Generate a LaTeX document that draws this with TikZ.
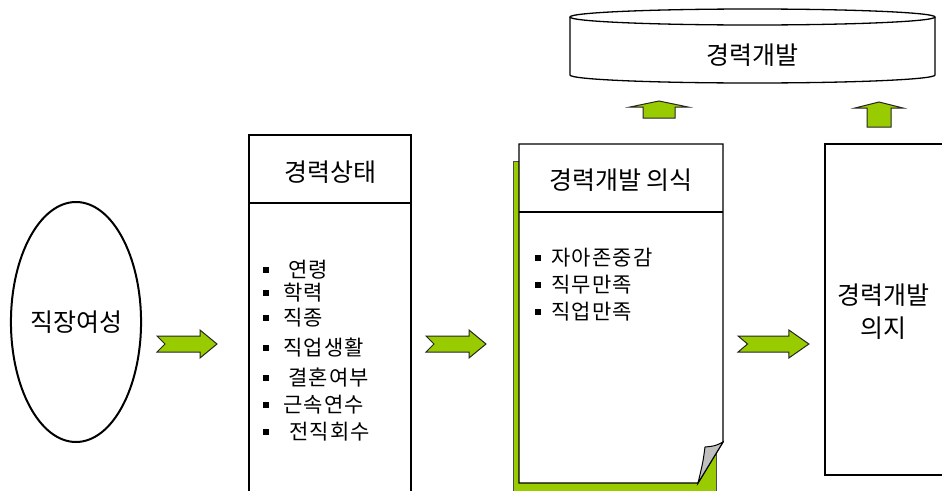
\documentclass[tikz,border=0pt]{standalone}
\usepackage{fontspec}
\newfontfamily\kr{Noto Sans CJK KR}
\newfontfamily\krs[LetterSpace=6]{Noto Sans CJK KR}
\usetikzlibrary{shapes.geometric}
\definecolor{agreen}{HTML}{99CC00}
\begin{document}
\begin{tikzpicture}[x=1pt,y=-1pt, line join=miter,
 box/.style={draw=black, line width=1.3pt, fill=white},
 garrow/.style={fill=agreen, draw=black!85, line width=1pt},
 lbl/.style={font=\kr\fontsize{25}{33}\selectfont, inner sep=0, align=center},
 item/.style={font=\krs\fontsize{21}{24}\selectfont, inner sep=0, anchor=west},
 bul/.style={fill=black, minimum size=6pt, inner sep=0},
 rarrow/.pic={\draw[garrow] (-30,-8) -- (13,-8) -- (13,-14) -- (30,0) -- (13,14) -- (13,8) -- (-30,8) -- (-22,0) -- cycle;}
]
\useasboundingbox (0,0) rectangle (942,490);
\clip (0,0) rectangle (942,490);

% ellipse
\node[ellipse, draw=black, line width=2pt, minimum width=126pt, minimum height=240pt, lbl] (woman) at (76,322) {직장여성};

% box 1
\draw[box] (249,495) -- (249,135) -- (411,135) -- (411,495);
\draw[line width=1.3pt] (249,203) -- (411,203);
\node[lbl] (state) at (330,172) {경력상태};
\foreach \t/\y/\dx [count=\i] in {연령/270/5, 학력/293/0, 직종/318/0, 직업생활/348/0, 결혼여부/378/5, 근속연수/405/0, 전직회수/432/6}{
  \node[bul] (b1\i) at (266,\y) {};
  \node[item] (s\i) at (283+\dx,\y) {\t};
}

% box 2 with shadow and curl
\fill[agreen, draw=black!70, line width=0.8pt] (513,161) rectangle (716,495);
\draw[box] (519,144) -- (723,144) -- (723,442) -- (698,483) -- (519,483) -- cycle;
\draw[line width=1.3pt] (519,212) -- (723,212);
\draw[fill=black!25, line width=1pt] (723,442) .. controls (715,446) .. (705,447) .. controls (703,462) .. (698,483) -- cycle;
\node[lbl] (aware) at (621,180) {경력개발 의식};
\foreach \t/\y [count=\i] in {자아존중감/258, 직무만족/285, 직업만족/312}{
  \node[bul] (b2\i) at (538,\y) {};
  \node[item] (a\i) at (551,\y) {\t};
}

% box 3
\draw[box] (950,144) -- (825,144) -- (825,475) -- (950,475);
\node[lbl] (will) at (883,312) {경력개발\\의지};

% cylinder
\draw[box] (570,17) -- (570,75) arc[start angle=180, end angle=0, x radius=182.5, y radius=8] -- (935,17);
\draw[box] (752.5,17) ellipse [x radius=182.5, y radius=8];
\node[lbl] (dev) at (752,55) {경력개발};

% right arrows
\pic at (187,344) {rarrow};
\pic at (456,344) {rarrow};
\pic[xscale=1.18] at (773.5,344) {rarrow};

% up arrows
\draw[garrow] (643,118) -- (643,107) -- (630,107) -- (659,101) -- (688,107) -- (675,107) -- (675,118) -- cycle;
\draw[garrow] (867,127) -- (867,108) -- (855,108) -- (879,102) -- (903,108) -- (891,108) -- (891,127) -- cycle;
\end{tikzpicture}
\end{document}
